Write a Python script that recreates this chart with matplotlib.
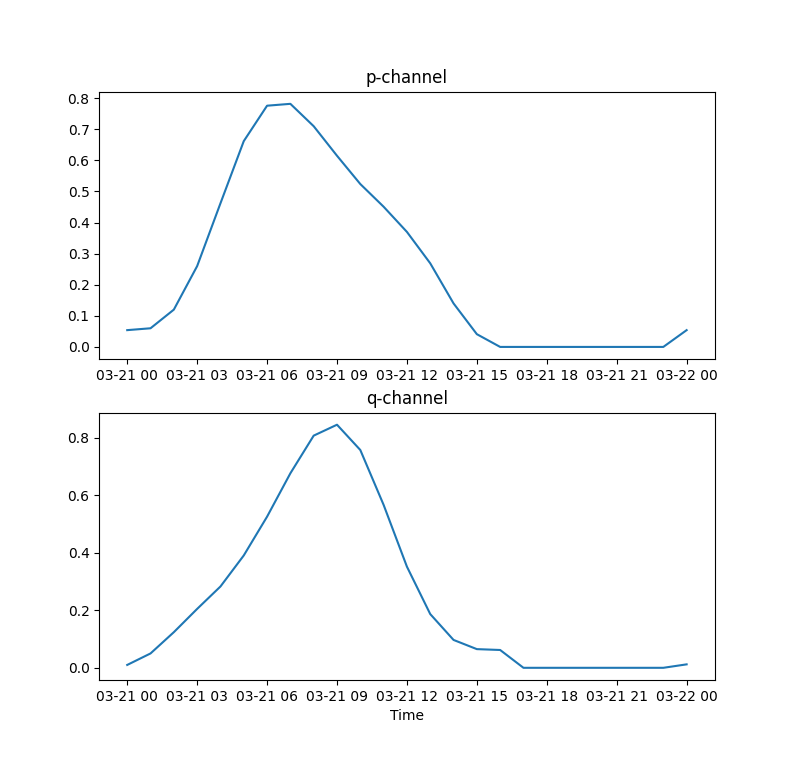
import matplotlib
matplotlib.use("Agg")
import matplotlib.pyplot as plt
import pandas as pd

times = pd.date_range("2023-03-21 00:00", periods=25, freq="h")
p_values = [0.054, 0.060, 0.120, 0.260, 0.462, 0.662, 0.776, 0.782, 0.710, 0.615,
            0.524, 0.451, 0.370, 0.269, 0.140, 0.041, 0.0, 0.0, 0.0, 0.0,
            0.0, 0.0, 0.0, 0.0, 0.054]
q_values = [0.010, 0.050, 0.124, 0.205, 0.283, 0.391, 0.526, 0.677, 0.808, 0.846,
            0.758, 0.567, 0.352, 0.187, 0.097, 0.065, 0.062, 0.0, 0.0, 0.0,
            0.0, 0.0, 0.0, 0.0, 0.012]

fig, (ax1, ax2) = plt.subplots(2, 1, figsize=(7.94, 7.64), dpi=100)
ax1.plot(times, p_values)
ax1.set_title("p-channel")
ax2.plot(times, q_values)
ax2.set_title("q-channel")
ax2.set_xlabel("Time")
fig.savefig("out.png", dpi=100)
